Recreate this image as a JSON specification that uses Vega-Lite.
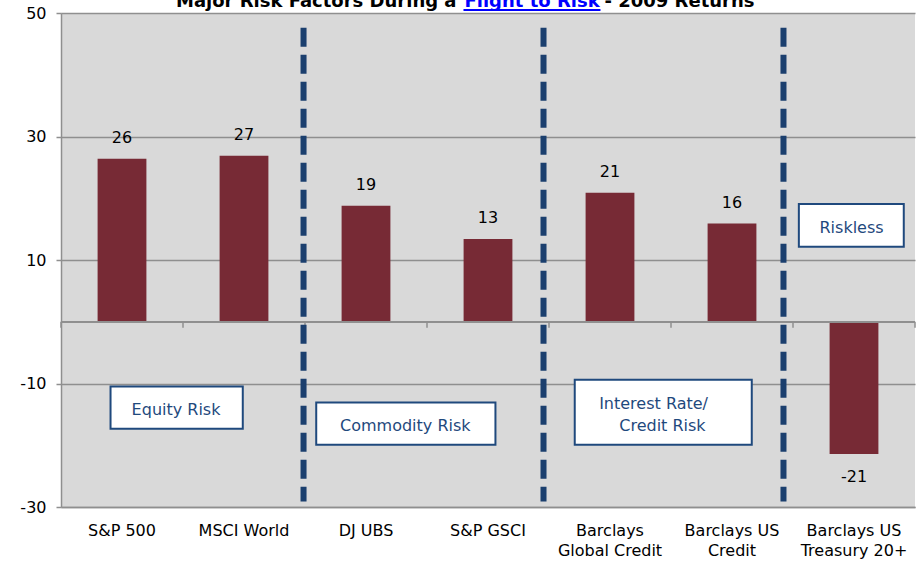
{
  "$schema": "https://vega.github.io/schema/vega-lite/v6.json",
  "width": 854,
  "height": 494,
  "autosize": {"type": "none"},
  "padding": {"left": 61, "top": 13, "right": 5, "bottom": 58},
  "background": "white",
  "config": {
    "view": {"fill": "#D9D9D9", "stroke": null},
    "font": "DejaVu Sans",
    "locale": {"number": {"decimal": ".", "thousands": ",", "grouping": [3], "currency": ["$", ""], "minus": "-"}}
  },
  "resolve": {"scale": {"x": "independent"}, "axis": {"x": "independent"}},
  "layer": [
    {
      "data": {"values": [
        {"fund": "S&P 500", "ret": 26.4},
        {"fund": "MSCI World", "ret": 26.9},
        {"fund": "DJ UBS", "ret": 18.8},
        {"fund": "S&P GSCI", "ret": 13.4},
        {"fund": "Barclays Global Credit", "ret": 20.9},
        {"fund": "Barclays US Credit", "ret": 15.9},
        {"fund": "Barclays US Treasury 20+", "ret": -21.4}
      ]},
      "layer": [
        {
          "mark": {"type": "bar", "color": "#772A35"},
          "encoding": {
            "x": {"field": "fund", "type": "nominal", "sort": null,
              "scale": {"paddingInner": 0.6, "paddingOuter": 0.3},
              "axis": {"title": null, "domainColor": "#8f8f8f", "domainWidth": 1.5, "ticks": false, "tickSize": 0,
                "labelFontSize": 16, "labelFont": "DejaVu Sans", "labelColor": "black", "labelPadding": 15, "labelLineHeight": 20, "labelAngle": 0,
                "labelExpr": "datum.label == 'Barclays Global Credit' ? ['Barclays','Global Credit'] : datum.label == 'Barclays US Credit' ? ['Barclays US','Credit'] : datum.label == 'Barclays US Treasury 20+' ? ['Barclays US','Treasury 20+'] : datum.label"}},
            "y": {"field": "ret", "type": "quantitative",
              "scale": {"domain": [-30, 50], "nice": false, "zero": false},
              "axis": {"title": null, "values": [-30, -10, 10, 30, 50], "grid": true, "gridColor": "#8f8f8f", "gridWidth": 1.5,
                "domainColor": "#8f8f8f", "domainWidth": 1.5, "tickColor": "#8f8f8f", "tickWidth": 1.5, "tickSize": 5,
                "labelFontSize": 16, "labelFont": "DejaVu Sans", "labelColor": "black", "labelPadding": 10,
                "labelExpr": "replace(datum.label, '\u2212', '-')"}}
          }
        },
        {
          "mark": {"type": "rule", "color": "#8f8f8f", "strokeWidth": 1.5},
          "encoding": {"y": {"datum": 0}}
        },
        {
          "transform": [{"filter": "datum.ret > 0"}],
          "mark": {"type": "text", "dy": -16, "baseline": "alphabetic", "fontSize": 16, "color": "black"},
          "encoding": {
            "x": {"field": "fund", "type": "nominal", "sort": null},
            "y": {"field": "ret", "type": "quantitative"},
            "text": {"field": "ret", "format": ".0f"}
          }
        },
        {
          "transform": [{"filter": "datum.ret < 0"}],
          "mark": {"type": "text", "dy": 28, "baseline": "alphabetic", "fontSize": 16, "color": "black"},
          "encoding": {
            "x": {"field": "fund", "type": "nominal", "sort": null},
            "y": {"field": "ret", "type": "quantitative"},
            "text": {"field": "ret", "format": ".0f"}
          }
        }
      ]
    },
    {
      "layer": [
        {
          "data": {"values": [{"u": 0}, {"u": 1}, {"u": 2}, {"u": 3}, {"u": 4}, {"u": 5}, {"u": 6}, {"u": 7}]},
          "mark": {"type": "rule", "color": "#8f8f8f", "strokeWidth": 1.5},
          "encoding": {
            "x": {"field": "u", "type": "quantitative", "scale": {"domain": [0, 7], "nice": false, "zero": false}, "axis": null},
            "y": {"datum": 0},
            "y2": {"datum": -0.97}
          }
        },
        {
          "data": {"values": [{"u": 1.988}, {"u": 3.955}, {"u": 5.922}]},
          "mark": {"type": "rule", "color": "#1B3F6E", "strokeWidth": 6, "strokeDash": [19, 8]},
          "encoding": {
            "x": {"field": "u", "type": "quantitative", "scale": {"domain": [0, 7], "nice": false, "zero": false}, "axis": null},
            "y": {"datum": 47.6},
            "y2": {"datum": -29.1}
          }
        },
        {
          "data": {"values": [
            {"x1": 0.406, "x2": 1.49, "y1": -10.47, "y2": -17.31},
            {"x1": 2.092, "x2": 3.561, "y1": -13.06, "y2": -19.9},
            {"x1": 4.211, "x2": 5.662, "y1": -9.39, "y2": -19.9},
            {"x1": 6.048, "x2": 6.908, "y1": 19.05, "y2": 12.14}
          ]},
          "mark": {"type": "rect", "fill": "white", "stroke": "#1F497D", "strokeWidth": 2},
          "encoding": {
            "x": {"field": "x1", "type": "quantitative", "scale": {"domain": [0, 7], "nice": false, "zero": false}, "axis": null},
            "x2": {"field": "x2"},
            "y": {"field": "y1", "type": "quantitative"},
            "y2": {"field": "y2"}
          }
        },
        {
          "data": {"values": [
            {"t": "Equity Risk", "u": 0.943, "v": -15.05},
            {"t": "Commodity  Risk", "u": 2.822, "v": -17.75},
            {"t": "Interest Rate/", "u": 4.857, "v": -14.08},
            {"t": "Credit Risk", "u": 4.93, "v": -17.75},
            {"t": "Riskless", "u": 6.48, "v": 14.35}
          ]},
          "mark": {"type": "text", "align": "center", "baseline": "alphabetic", "fontSize": 16, "color": "#1F497D"},
          "encoding": {
            "x": {"field": "u", "type": "quantitative", "scale": {"domain": [0, 7], "nice": false, "zero": false}, "axis": null},
            "y": {"field": "v", "type": "quantitative"},
            "text": {"field": "t"}
          }
        },
        {
          "data": {"values": [{"t": "Major Risk Factors  During a", "u": 3.242, "v": 51.05}]},
          "mark": {"type": "text", "align": "right", "baseline": "alphabetic", "fontSize": 18, "fontWeight": "bold", "color": "black"},
          "encoding": {
            "x": {"field": "u", "type": "quantitative", "scale": {"domain": [0, 7], "nice": false, "zero": false}, "axis": null},
            "y": {"field": "v", "type": "quantitative"},
            "text": {"field": "t"}
          }
        },
        {
          "data": {"values": [{"t": "Flight to Risk", "u": 3.861, "v": 51.05}]},
          "mark": {"type": "text", "align": "center", "baseline": "alphabetic", "fontSize": 18, "fontWeight": "bold", "color": "#0000FF"},
          "encoding": {
            "x": {"field": "u", "type": "quantitative", "scale": {"domain": [0, 7], "nice": false, "zero": false}, "axis": null},
            "y": {"field": "v", "type": "quantitative"},
            "text": {"field": "t"}
          }
        },
        {
          "data": {"values": [{"t": "- 2009 Returns", "u": 4.455, "v": 51.05}]},
          "mark": {"type": "text", "align": "left", "baseline": "alphabetic", "fontSize": 18, "fontWeight": "bold", "color": "black"},
          "encoding": {
            "x": {"field": "u", "type": "quantitative", "scale": {"domain": [0, 7], "nice": false, "zero": false}, "axis": null},
            "y": {"field": "v", "type": "quantitative"},
            "text": {"field": "t"}
          }
        },
        {
          "data": {"values": [{"u1": 3.299, "u2": 4.422, "v": 50.49}]},
          "mark": {"type": "rule", "color": "#0000FF", "strokeWidth": 2},
          "encoding": {
            "x": {"field": "u1", "type": "quantitative", "scale": {"domain": [0, 7], "nice": false, "zero": false}, "axis": null},
            "x2": {"field": "u2"},
            "y": {"field": "v", "type": "quantitative"}
          }
        }
      ]
    }
  ]
}
